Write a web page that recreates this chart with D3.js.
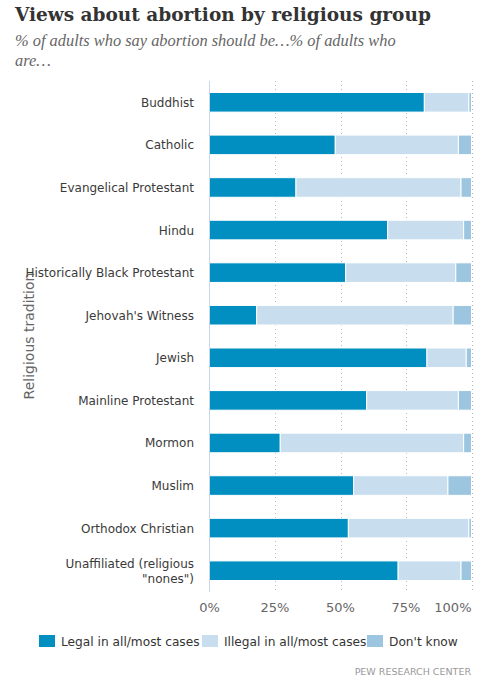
<!DOCTYPE html>
<html><head><meta charset="utf-8">
<script src="https://cdn.jsdelivr.net/npm/d3@7"></script>
<style>
body{margin:0;background:#fff;}
svg{display:block;}
</style></head>
<body>
<svg id="chart" width="487" height="680"></svg>
<script>
const categories = ["Buddhist","Catholic","Evangelical Protestant","Hindu","Historically Black Protestant","Jehovah's Witness","Jewish","Mainline Protestant","Mormon","Muslim","Orthodox Christian","Unaffiliated (religious \"nones\")"];
const legal   = [82,48,33,68,52,18,83,60,27,55,53,72];
const illegal = [17,47,63,29,42,75,15,35,70,36,46,24];
const dontKnow= [1,5,4,3,6,7,2,5,3,9,1,4];
const seriesNames = ["Legal in all/most cases","Illegal in all/most cases","Don't know"];
const seriesColors = ["#008fc0","#c8deee","#9cc5df"];
const tickValues = [0,25,50,75,100];
const tickLabels = ["0%","25%","50%","75%","100%"];

const svg = d3.select("#chart");
const pLeft = 209.5, pRight = 471.5, pTop = 81, pBottom = 592;

svg.append("text").attr("x",15).attr("y",21)
  .attr("font-family","DejaVu Serif").attr("font-weight","bold").attr("font-size","18.5px")
  .attr("fill","#333").text("Views about abortion by religious group");
const sub = svg.append("text").attr("font-family","Liberation Serif").attr("font-style","italic")
  .attr("font-size","16.4px").attr("fill","#666");
sub.append("tspan").attr("x",15).attr("y",46).text("% of adults who say abortion should be…% of adults who");
sub.append("tspan").attr("x",15).attr("y",66).text("are…");

const x = d3.scaleLinear().domain([0,100]).range([pLeft,pRight]);
const y = d3.scaleBand().domain(categories).range([pTop,pBottom]).paddingInner(0.54).paddingOuter(0.27);

// grid
svg.append("g").selectAll("line").data(tickValues.slice(1)).join("line")
  .attr("x1",d=>Math.round(x(d))+0.5).attr("x2",d=>Math.round(x(d))+0.5)
  .attr("y1",pTop).attr("y2",pBottom)
  .attr("stroke","#bbbbbb").attr("stroke-dasharray","1,3");

// data rows
const rows = categories.map((c,i)=>({cat:c, vals:[legal[i],illegal[i],dontKnow[i]]}));
const stackData = rows.map(r=>{const t=r.vals[0]+r.vals[1]+r.vals[2]; const o={cat:r.cat}; r.vals.forEach((v,j)=>o["s"+j]=v/t*100); return o;});
const stack = d3.stack().keys(["s0","s1","s2"]);
const series = stack(stackData);
svg.append("g").selectAll("g").data(series).join("g")
  .attr("fill",(d,i)=>seriesColors[i])
  .selectAll("rect").data(d=>d).join("rect")
  .attr("x",d=>x(d[0])).attr("width",d=>x(d[1])-x(d[0]))
  .attr("y",d=>y(d.data.cat)).attr("height",y.bandwidth())
  .attr("stroke","#fff").attr("stroke-width",1);

// axis line
svg.append("line").attr("x1",pLeft).attr("x2",pLeft).attr("y1",pTop).attr("y2",pBottom)
  .attr("stroke","#ccd6eb").attr("stroke-width",1);

// y labels
const yl = svg.append("g").attr("font-family","DejaVu Sans").attr("font-size","12px").attr("fill","#3a3a3a").attr("text-anchor","end");
categories.forEach(c=>{
  const cy = y(c)+y.bandwidth()/2;
  if (c.startsWith("Unaffiliated")) {
    const t = yl.append("text").attr("x",194).attr("y",cy-3);
    t.append("tspan").attr("x",194).text("Unaffiliated (religious");
    t.append("tspan").attr("x",194).attr("dy",15).text("\"nones\")");
  } else {
    yl.append("text").attr("x",194).attr("y",cy+4.5).text(c);
  }
});

// axis title
svg.append("text").attr("transform","translate(34,336) rotate(-90)")
  .attr("text-anchor","middle").attr("font-family","DejaVu Sans").attr("font-size","14px")
  .attr("fill","#666").text("Religious tradition");

// x tick labels
svg.append("g").selectAll("text").data(tickValues).join("text")
  .attr("x",(d,i)=>i===tickValues.length-1 ? pRight : x(d)).attr("y",612)
  .attr("text-anchor",(d,i)=>i===tickValues.length-1 ? "end" : "middle")
  .attr("font-family","DejaVu Sans").attr("font-size","13px").attr("fill","#666")
  .text((d,i)=>tickLabels[i]);

// legend
const legendX = [39,202,367];
const lg = svg.append("g");
seriesNames.forEach((n,i)=>{
  lg.append("rect").attr("x",legendX[i]).attr("y",635).attr("width",16).attr("height",12).attr("fill",seriesColors[i]);
  lg.append("text").attr("x",legendX[i]+22).attr("y",646).attr("font-family","DejaVu Sans")
    .attr("font-size","12.2px").attr("fill","#333").text(n);
});

svg.append("text").attr("x",471).attr("y",675).attr("text-anchor","end")
  .attr("font-family","DejaVu Sans").attr("font-size","9.5px").attr("fill","#999").text("PEW RESEARCH CENTER");
</script>
</body></html>
